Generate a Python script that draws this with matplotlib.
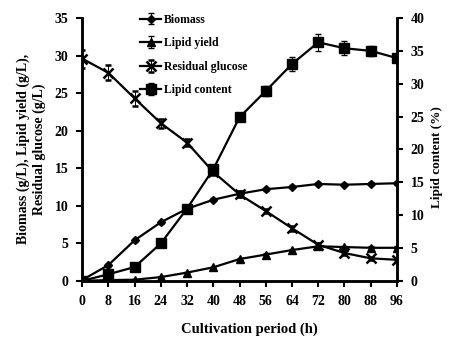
import numpy as np
from matplotlib import pyplot as plt

plt.rcParams['font.family'] = ['Liberation Serif', 'DejaVu Serif']
plt.rcParams['font.weight'] = 'bold'

hours = [0, 8, 16, 24, 32, 40, 48, 56, 64, 72, 80, 88, 96]
biomass = [0.1, 2.1, 5.4, 7.8, 9.6, 10.8, 11.6, 12.2, 12.5, 12.9, 12.8, 12.9, 13.0]
biomass_err = [0.1, 0.2, 0.2, 0.2, 0.2, 0.2, 0.2, 0.2, 0.2, 0.2, 0.2, 0.2, 0.2]
lipid_yield = [0.0, 0.1, 0.15, 0.5, 1.1, 1.8, 2.9, 3.5, 4.1, 4.6, 4.5, 4.4, 4.4]
lipid_yield_err = [0.05, 0.05, 0.05, 0.1, 0.1, 0.1, 0.15, 0.15, 0.15, 0.2, 0.2, 0.2, 0.2]
glucose = [29.6, 27.7, 24.3, 21.0, 18.4, 14.5, 11.5, 9.3, 7.0, 4.8, 3.7, 3.0, 2.8]
glucose_err = [1.2, 1.0, 1.0, 0.6, 0.5, 0.4, 0.4, 0.3, 0.3, 0.3, 0.2, 0.2, 0.2]
lipid_content = [0.0, 1.0, 2.1, 5.7, 11.0, 17.0, 24.9, 28.9, 33.0, 36.3, 35.4, 35.0, 33.9]
lipid_content_err = [0.2, 0.3, 0.3, 0.4, 0.5, 0.6, 0.5, 0.8, 1.0, 1.3, 1.1, 0.8, 0.6]

fig = plt.figure(figsize=(4.72, 3.4), dpi=100)
ax = fig.add_axes([0.174, 0.174, 0.667, 0.773])
ax2 = ax.twinx()

stil = dict(color='black', lw=1.6, capsize=2, elinewidth=0.7, ecolor='black')
h1 = ax.errorbar(hours, biomass, yerr=biomass_err, marker='D', ms=4.5, label='Biomass', **stil)
h2 = ax.errorbar(hours, lipid_yield, yerr=lipid_yield_err, marker='^', ms=6, label='Lipid yield', **stil)
h3 = ax.errorbar(hours, glucose, yerr=glucose_err, marker='x', ms=7, mew=1.8, label='Residual glucose', **stil)
h4 = ax2.errorbar(hours, lipid_content, yerr=lipid_content_err, marker='s', ms=7, label='Lipid content', **stil)

ax.set_xlim(0, 96)
ax.set_ylim(0, 35)
ax2.set_ylim(0, 40)
ax.set_xticks(hours)
ax.set_yticks(range(0, 36, 5))
ax2.set_yticks(range(0, 41, 5))

for a in (ax, ax2):
    a.spines['top'].set_visible(False)
    for s in ('left', 'right', 'bottom'):
        a.spines[s].set_linewidth(1.8)
    a.tick_params(direction='out', width=1.5, length=4, labelsize=10, pad=6)

ax.set_xlabel('Cultivation period (h)', fontsize=10.5, fontweight='bold')
ax.xaxis.set_label_coords(0.53, -0.16)
ax.set_ylabel('Biomass (g/L), Lipid yield (g/L),\nResidual glucose (g/L)', fontsize=10,
              fontweight='bold', linespacing=1.25)
ax.yaxis.set_label_coords(-0.115, 0.5)
ax2.set_ylabel('Lipid content (%)', fontsize=9.5, fontweight='bold')
ax2.yaxis.set_label_coords(1.108, 0.47)

handles = [h1, h2, h3, h4]
leg = ax.legend(handles, [h.get_label() for h in handles], loc='upper left',
                bbox_to_anchor=(0.15, 1.057), frameon=False, fontsize=8.5,
                labelspacing=0.98, handlelength=1.8, handletextpad=0.2)
for t in leg.get_texts():
    t.set_fontweight('bold')

plt.savefig('out.png', dpi=100)
